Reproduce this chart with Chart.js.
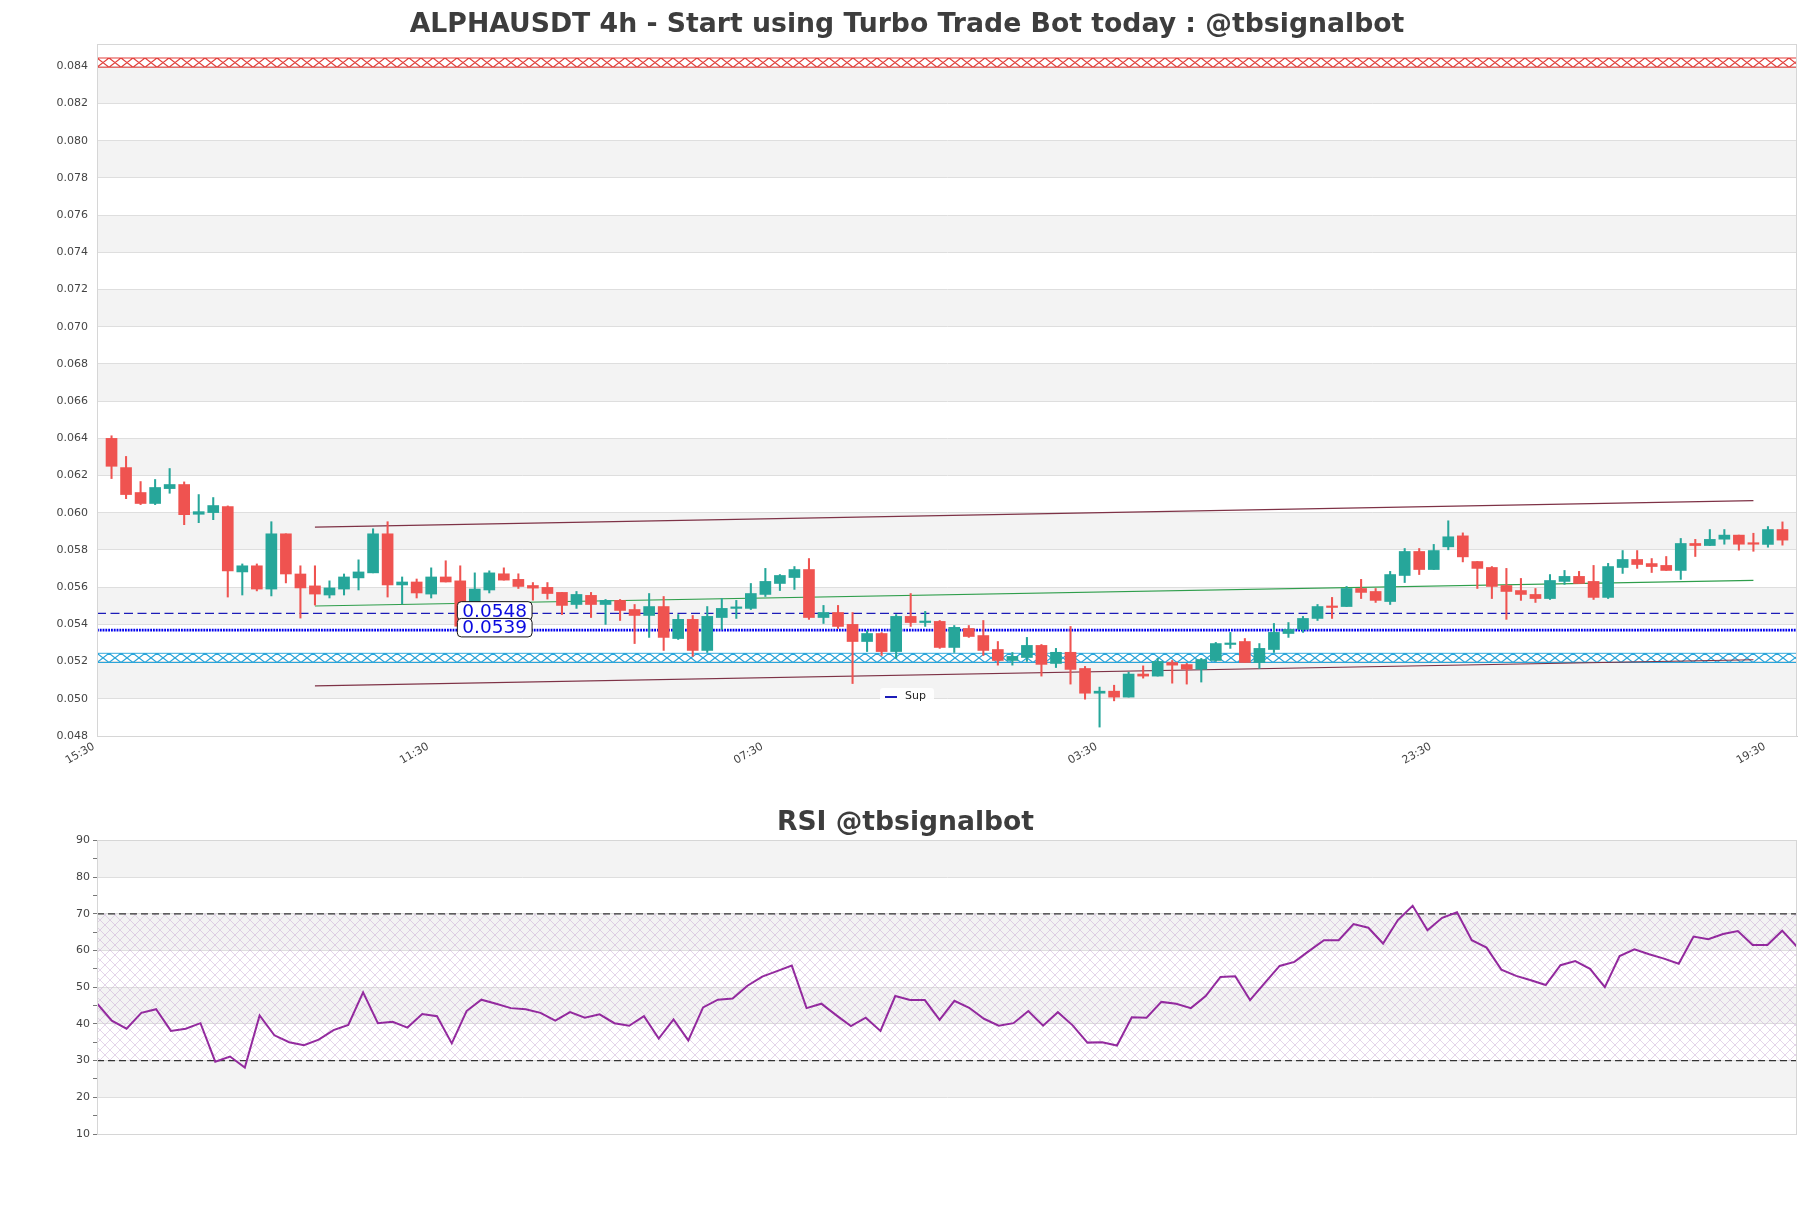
<!DOCTYPE html>
<html><head><meta charset="utf-8">
<script src="https://cdn.jsdelivr.net/npm/chart.js@4.4.1/dist/chart.umd.min.js"></script>
<style>
html,body{margin:0;padding:0;background:#fff;}
#wrap{position:relative;width:1811px;height:1208px;overflow:hidden;}
#c1{position:absolute;left:0;top:0;}
#c2{position:absolute;left:0;top:790px;}
</style></head><body>
<div id="wrap"><canvas id="c1" width="1811" height="790"></canvas><canvas id="c2" width="1811" height="418"></canvas></div>
<script>
// ---------------- DATA ----------------
const tickIndex  = [-1, 22, 45, 68, 91, 114];
const tickLabels = ['15:30', '11:30', '07:30', '03:30', '23:30', '19:30'];
const priceTicks = [0.048,0.050,0.052,0.054,0.056,0.058,0.060,0.062,0.064,0.066,0.068,0.070,0.072,0.074,0.076,0.078,0.080,0.082,0.084];
const rsiTicks   = [10,15,20,25,30,35,40,45,50,55,60,65,70,75,80,85,90];

const opens = [0.0640,0.06243,0.06109,0.0605,0.0613,0.06152,0.05992,0.06001,0.06033,0.05682,
0.05715,0.0559,0.05887,0.05671,0.05607,0.05558,0.0559,0.0565,0.05677,0.05887,
0.05612,0.05628,0.05563,0.05655,0.05634,0.0540,0.05585,0.05672,0.05642,0.05609,
0.05599,0.05572,0.05507,0.05556,0.05507,0.05529,0.0548,0.05448,0.05496,0.05324,
0.05427,0.0526,0.05437,0.05486,0.05486,0.05561,0.0562,0.05652,0.05695,0.05437,
0.05464,0.054,0.05308,0.05351,0.05254,0.05443,0.0541,0.05416,0.05276,0.05378,
0.0534,0.05265,0.05206,0.05222,0.05287,0.0519,0.0525,0.05163,0.0503,0.05041,
0.05009,0.05133,0.05122,0.05195,0.05184,0.05159,0.05206,0.05292,0.05308,0.05195,
0.05265,0.05351,0.05373,0.05432,0.05496,0.05496,0.05593,0.05577,0.05523,0.05663,
0.05792,0.05695,0.05817,0.05876,0.05738,0.05706,0.05609,0.05582,0.05561,0.05539,
0.05631,0.05658,0.05631,0.05545,0.05706,0.05749,0.05727,0.05717,0.0569,0.05835,
0.05824,0.05858,0.0588,0.05836,0.0583,0.0591];
const highs = [0.06414,0.06303,0.06168,0.06179,0.06238,0.06166,0.06098,0.06082,0.06037,0.05725,
0.05725,0.05952,0.05887,0.05715,0.05715,0.05634,0.05671,0.05747,0.05914,0.05952,
0.05655,0.05644,0.05704,0.05742,0.05715,0.05677,0.05688,0.05704,0.05672,0.05625,
0.05625,0.05572,0.05577,0.05572,0.05534,0.05534,0.05507,0.05566,0.0555,0.05453,
0.05448,0.05496,0.05539,0.05529,0.0562,0.05701,0.05668,0.05711,0.05754,0.05502,
0.05502,0.05464,0.05367,0.05356,0.05453,0.05566,0.0547,0.05421,0.05394,0.05394,
0.05421,0.05308,0.05249,0.0533,0.05292,0.05271,0.05389,0.05174,0.05063,0.05073,
0.05143,0.05177,0.05217,0.05206,0.0519,0.05217,0.05303,0.05357,0.05324,0.05297,
0.05405,0.0541,0.05443,0.05507,0.05545,0.05604,0.05642,0.05593,0.05685,0.05808,
0.05808,0.0583,0.05957,0.05892,0.05738,0.05711,0.05701,0.05647,0.05593,0.05668,
0.0569,0.05685,0.05717,0.05728,0.05797,0.05797,0.05754,0.05765,0.05862,0.05857,
0.0591,0.0591,0.0588,0.0589,0.05926,0.05951];
const lows = [0.06184,0.06076,0.06044,0.06044,0.06105,0.05936,0.05947,0.05963,0.05547,0.05558,
0.0558,0.05553,0.05623,0.05434,0.05504,0.05542,0.05558,0.05585,0.05677,0.05547,
0.0551,0.05542,0.05542,0.05628,0.0537,0.0539,0.05569,0.05638,0.05593,0.0553,
0.05536,0.05453,0.05486,0.05437,0.054,0.05421,0.05297,0.0533,0.0526,0.05319,
0.05228,0.05249,0.05373,0.05432,0.0548,0.0555,0.05582,0.05588,0.05427,0.05405,
0.05378,0.05082,0.05254,0.05233,0.05217,0.05389,0.05389,0.05271,0.05249,0.0533,
0.05233,0.05181,0.05181,0.05201,0.05122,0.05168,0.05079,0.04998,0.04848,0.04989,
0.05009,0.05111,0.05122,0.05084,0.05079,0.0509,0.05201,0.05271,0.05195,0.05163,
0.05249,0.0533,0.05357,0.05421,0.05432,0.05496,0.05539,0.05518,0.05507,0.05625,
0.05668,0.05695,0.05801,0.05736,0.05593,0.05539,0.05427,0.05529,0.05518,0.05534,
0.05615,0.0562,0.05534,0.05539,0.05674,0.05701,0.05679,0.0569,0.05642,0.05765,
0.05824,0.05831,0.05799,0.05793,0.05815,0.05826];
const closes = [0.0625,0.06098,0.0605,0.06136,0.06152,0.0599,0.06006,0.06039,0.05688,0.05715,
0.0559,0.05887,0.05671,0.05596,0.05563,0.05596,0.05655,0.05682,0.05887,0.05612,
0.05628,0.05569,0.05655,0.05628,0.0539,0.0559,0.05677,0.05638,0.05604,0.05595,
0.05566,0.05502,0.05561,0.05507,0.05529,0.05475,0.05448,0.05496,0.0533,0.05427,
0.0526,0.05443,0.05486,0.05491,0.05566,0.05631,0.05663,0.05695,0.05437,0.05464,
0.05389,0.05308,0.05351,0.05254,0.05443,0.0541,0.05416,0.05276,0.05384,0.05335,
0.0526,0.05206,0.05228,0.05287,0.05185,0.0525,0.05158,0.0503,0.05041,0.05009,
0.05133,0.05122,0.05201,0.05181,0.05159,0.05211,0.05297,0.05297,0.05195,0.05271,
0.05357,0.05373,0.05432,0.05496,0.05491,0.05593,0.05572,0.05529,0.05668,0.05792,
0.05695,0.05797,0.05871,0.05763,0.05701,0.05604,0.05577,0.05561,0.05539,0.05636,
0.05658,0.0562,0.05545,0.05711,0.05749,0.05722,0.05711,0.0569,0.05835,0.05824,
0.05857,0.0588,0.05831,0.05831,0.0591,0.05853];

const rsiValues = [45.6,40.9,38.7,43.0,44.0,38.1,38.7,40.2,29.7,31.1,
28.1,42.3,36.9,35.0,34.2,35.7,38.3,39.7,48.6,40.2,
40.6,39.0,42.7,42.1,34.7,43.5,46.6,45.5,44.3,44.0,
43.0,40.9,43.2,41.7,42.6,40.2,39.5,42.1,36.0,41.2,
35.5,44.5,46.6,46.9,50.4,52.9,54.4,55.9,44.3,45.5,
42.4,39.4,41.7,38.1,47.6,46.5,46.5,41.1,46.3,44.4,
41.4,39.5,40.2,43.5,39.5,43.2,39.6,34.9,35.0,34.1,
41.8,41.7,46.0,45.5,44.3,47.6,52.8,53.0,46.5,51.2,
55.8,56.9,59.9,62.8,62.8,67.2,66.2,61.9,68.3,72.2,
65.5,68.9,70.4,62.8,60.8,54.8,53.1,51.9,50.6,56.0,
57.1,55.0,50.0,58.5,60.3,59.0,57.8,56.4,63.8,63.1,
64.5,65.3,61.5,61.5,65.4,61.0];

const resistanceZone = [0.08395, 0.08445];
const supportZone    = [0.05195, 0.05245];
const levelValues    = [0.05459, 0.05369];
const levelLabels    = ['0.0548', '0.0539'];
const upperTrendX = [14, 113], upperTrendY = [0.05923, 0.06065];
const midTrendX   = [14, 113], midTrendY   = [0.05499, 0.05637];
const lowerTrendX = [14, 113], lowerTrendY = [0.0507, 0.0521];
const rsiLevels = [70, 30];

// ---------------- STYLE / CONFIG ----------------
const UP = '#26a69a', DOWN = '#ef5350';
const LABEL_AT = 23.8;         // x (candle index) where level labels start
const BAND = '#f3f3f3', GRID = '#dedede', FRAME = '#d6d6d6';
Chart.defaults.font.family = "'DejaVu Sans', sans-serif";
Chart.defaults.font.size = 11;
Chart.defaults.color = '#444';

const candleColors = opens.map((o,i) => closes[i] >= o ? UP : DOWN);
const xMin = -1, xMax = opens.length;

function bandsPlugin(step, grayOdd){
  return { id:'bands', beforeDraw(chart){
    const {ctx, chartArea:a, scales:{y}} = chart;
    ctx.save(); ctx.fillStyle = BAND;
    const start = Math.floor(y.min/step);
    for (let k = start; k*step < y.max; k++){
      const isOdd = Math.abs(k) % 2 === 1;
      if (isOdd !== grayOdd) continue;
      let t = y.getPixelForValue(Math.min((k+1)*step, y.max));
      let b = y.getPixelForValue(Math.max(k*step, y.min));
      ctx.fillRect(a.left, t, a.right-a.left, b-t);
    }
    ctx.restore();
  }};
}
function framePlugin(){
  return { id:'frame', afterDraw(chart){
    const {ctx, chartArea:a} = chart;
    ctx.save(); ctx.strokeStyle = FRAME; ctx.lineWidth = 1;
    ctx.strokeRect(Math.round(a.left)+0.5, Math.round(a.top)+0.5, Math.round(a.right-a.left)-1, Math.round(a.bottom-a.top));
    ctx.restore();
  }};
}
function drawHatchZone(ctx, a, yTop, yBot, color){
  ctx.save();
  ctx.beginPath(); ctx.rect(a.left, yTop-1, a.right-a.left, yBot-yTop+2); ctx.clip();
  ctx.strokeStyle = color; ctx.lineWidth = 1.1;
  const w = 12;
  ctx.beginPath();
  for (let x = a.left; x < a.right + w; x += w){
    ctx.moveTo(x, yTop); ctx.lineTo(x+w, yBot);
    ctx.moveTo(x+w, yTop); ctx.lineTo(x, yBot);
  }
  ctx.moveTo(a.left, yTop); ctx.lineTo(a.right, yTop);
  ctx.moveTo(a.left, yBot); ctx.lineTo(a.right, yBot);
  ctx.stroke(); ctx.restore();
}
const zonesPlugin = { id:'zones', beforeDatasetsDraw(chart){
  const {ctx, chartArea:a, scales:{y}} = chart;
  drawHatchZone(ctx, a, y.getPixelForValue(resistanceZone[1]), y.getPixelForValue(resistanceZone[0]), '#e2403c');
  drawHatchZone(ctx, a, y.getPixelForValue(supportZone[1]), y.getPixelForValue(supportZone[0]), '#2aa5da');
}};
function roundRect(ctx, x, y, w, h, r){
  ctx.beginPath(); ctx.moveTo(x+r,y); ctx.lineTo(x+w-r,y); ctx.quadraticCurveTo(x+w,y,x+w,y+r);
  ctx.lineTo(x+w,y+h-r); ctx.quadraticCurveTo(x+w,y+h,x+w-r,y+h); ctx.lineTo(x+r,y+h);
  ctx.quadraticCurveTo(x,y+h,x,y+h-r); ctx.lineTo(x,y+r); ctx.quadraticCurveTo(x,y,x+r,y); ctx.closePath();
}
const labelsPlugin = { id:'levelLabels', afterDraw(chart){
  const {ctx, scales:{x,y}} = chart;
  ctx.save();
  ctx.font = "18.5px 'DejaVu Sans'";
  ctx.textBaseline = 'middle';
  levelValues.forEach((v,i) => {
    const px = x.getPixelForValue(LABEL_AT), py = y.getPixelForValue(v) - 2.5;
    const tw = ctx.measureText(levelLabels[i]).width;
    const w = tw + 10, h = 18.5;
    roundRect(ctx, px, py - h/2, w, h, 4);
    ctx.fillStyle = '#fff'; ctx.fill();
    ctx.strokeStyle = '#111'; ctx.lineWidth = 1; ctx.stroke();
    ctx.fillStyle = '#0a0ae0'; ctx.fillText(levelLabels[i], px + 5, py + 1);
  });
  // legend
  const ds = chart.data.datasets.find(d => d.label === 'Sup');
  const lx = 880, ly = 688;
  roundRect(ctx, lx, ly, 54, 16, 3); ctx.fillStyle = 'rgba(255,255,255,0.9)'; ctx.fill();
  ctx.strokeStyle = ds.borderColor; ctx.lineWidth = 2; ctx.setLineDash([]);
  ctx.beginPath(); ctx.moveTo(lx+5, ly+9); ctx.lineTo(lx+17, ly+9); ctx.stroke();
  ctx.font = "11px 'DejaVu Sans'"; ctx.fillStyle = '#222'; ctx.fillText(ds.label, lx+25, ly+8.5);
  ctx.restore();
}};

const seg = (xs, ys) => xs.map((xv,i) => ({x:xv, y:ys[i]}));
const lineDs = (label, data, color, width, dash) => ({
  type:'line', label, data, borderColor:color, borderWidth:width, borderDash:dash||[],
  pointRadius:0, tension:0, fill:false, borderCapStyle:'butt'
});
// invisible right spacer axis keeping the plot's right edge while the title centres on the page
const spacerAxis = { position:'right', display:true, afterFit: s => { s.width = 14; },
  ticks:{ display:false }, grid:{ display:false, drawTicks:false }, border:{ display:false } };

new Chart(document.getElementById('c1'), {
  type:'bar',
  data:{ datasets:[
    { label:'body', data: opens.map((o,i)=>({x:i, y:[o, closes[i]]})), backgroundColor: candleColors,
      barThickness:11, grouped:false, minBarLength:1.5, borderWidth:0 },
    { label:'wick', data: highs.map((h,i)=>({x:i, y:[lows[i], h]})), backgroundColor: candleColors,
      barThickness:1.4, grouped:false, borderWidth:0 },
    lineDs('upper', seg(upperTrendX, upperTrendY), '#7e3246', 1.2),
    lineDs('mid',   seg(midTrendX, midTrendY), '#2f9e4c', 1.2),
    lineDs('lower', seg(lowerTrendX, lowerTrendY), '#7e3246', 1.2),
    lineDs('Sup', seg([xMin, xMax], [levelValues[0], levelValues[0]]), '#1c1cb8', 1.4, [9,4.5]),
    lineDs('level2', seg([xMin, xMax], [levelValues[1], levelValues[1]]), '#0000ee', 2.8, [1.8,1.0]),
  ]},
  options:{
    responsive:false, animation:false, devicePixelRatio:1,
    layout:{ padding:{ left:3, right:0, top:0, bottom:0 } },
    plugins:{
      legend:{ display:false }, tooltip:{ enabled:false },
      title:{ display:true, text:'ALPHAUSDT 4h - Start using Turbo Trade Bot today : @tbsignalbot',
        color:'#3d3d3d', font:{ size:26.7, weight:'bold', family:"'DejaVu Sans'" }, padding:{ top:9, bottom:3 } }
    },
    scales:{
      x:{ type:'linear', min:xMin, max:xMax, offset:false,
        afterBuildTicks: s => { s.ticks = tickIndex.map(v => ({value:v})); },
        afterFit: s => { s.height = 54; },
        ticks:{ autoSkip:false, minRotation:30, maxRotation:30, padding:-4, labelOffset:-3,
          callback: v => tickLabels[tickIndex.indexOf(v)] ?? '' , color:'#444', font:{size:11} },
        grid:{ display:false }, border:{ display:true, color:'#cfcfcf' } },
      y:{ type:'linear', min:0.048, max:0.0852,
        afterBuildTicks: s => { s.ticks = priceTicks.map(v => ({value:v})); },
        afterFit: s => { s.width = 94; },
        ticks:{ padding:9, callback: v => v.toFixed(3), color:'#444', font:{size:11} },
        grid:{ color:GRID, drawTicks:false }, border:{ display:true, color:'#cfcfcf' } },
      yR: spacerAxis
    }
  },
  plugins:[bandsPlugin(0.002, true), zonesPlugin, framePlugin(), labelsPlugin]
});

// RSI hatch pattern
function makeHatch(){
  const c = document.createElement('canvas'); c.width = 10; c.height = 10;
  const g = c.getContext('2d');
  g.strokeStyle = 'rgba(190,155,205,0.6)'; g.lineWidth = 0.7;
  g.beginPath(); g.moveTo(0,0); g.lineTo(10,10); g.moveTo(10,0); g.lineTo(0,10); g.stroke();
  return c;
}
const rsiZonePlugin = { id:'rsiZone', beforeDatasetsDraw(chart){
  const {ctx, chartArea:a, scales:{y}} = chart;
  const pat = ctx.createPattern(makeHatch(), 'repeat');
  const t = y.getPixelForValue(rsiLevels[0]), b = y.getPixelForValue(rsiLevels[1]);
  ctx.save(); ctx.fillStyle = pat; ctx.fillRect(a.left, t, a.right-a.left, b-t); ctx.restore();
}};

new Chart(document.getElementById('c2'), {
  type:'line',
  data:{ datasets:[
    { label:'RSI', data: rsiValues.map((v,i)=>({x:i, y:v})), borderColor:'#932a9e', borderWidth:2,
      pointRadius:0, tension:0, fill:false },
    lineDs('ob', seg([0, rsiValues.length-1], [rsiLevels[0], rsiLevels[0]]), '#333', 1.3, [7,4]),
    lineDs('os', seg([0, rsiValues.length-1], [rsiLevels[1], rsiLevels[1]]), '#333', 1.3, [7,4]),
  ]},
  options:{
    responsive:false, animation:false, devicePixelRatio:1,
    layout:{ padding:{ left:0, right:0, top:0, bottom:74 } },
    plugins:{
      legend:{ display:false }, tooltip:{ enabled:false },
      title:{ display:true, text:'RSI @tbsignalbot', color:'#3d3d3d',
        font:{ size:26.6, weight:'bold', family:"'DejaVu Sans'" }, padding:{ top:17, bottom:1.5 } }
    },
    scales:{
      x:{ type:'linear', min:0, max:rsiValues.length-1, display:false },
      y:{ type:'linear', min:10, max:90,
        afterBuildTicks: s => { s.ticks = rsiTicks.map(v => ({value:v})); },
        afterFit: s => { s.width = 97; },
        ticks:{ padding:3, callback: v => (v % 10 === 0 ? String(v) : ''), color:'#444', font:{size:11} },
        grid:{ color: c => (c.tick && c.tick.value % 10 === 0 ? GRID : 'rgba(0,0,0,0)'),
          tickColor:'#777', tickLength:4, drawTicks:true },
        border:{ display:true, color:'#cfcfcf' } },
      yR: spacerAxis
    }
  },
  plugins:[bandsPlugin(10, false), rsiZonePlugin, framePlugin()]
});
</script>
</body></html>
